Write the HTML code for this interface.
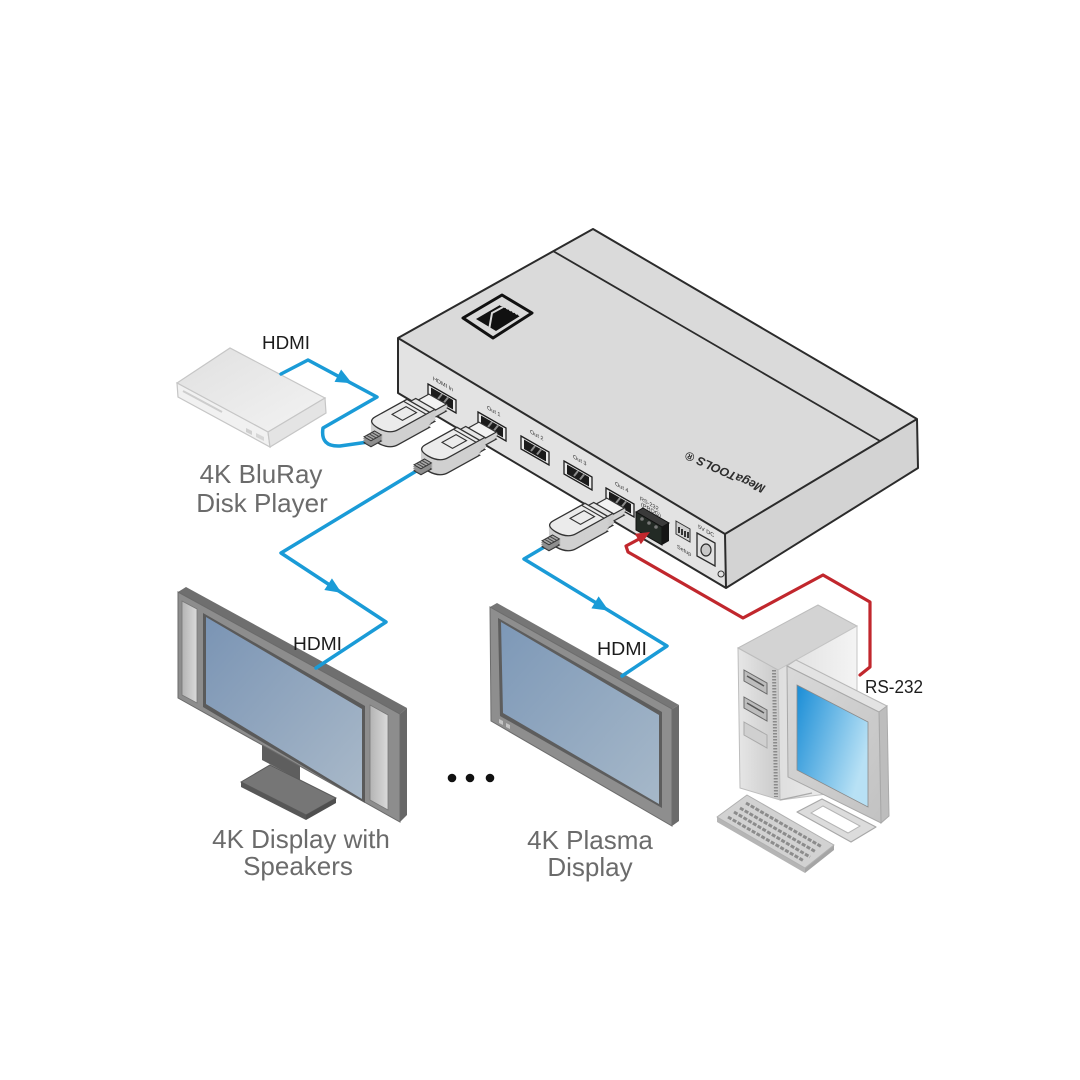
<!DOCTYPE html>
<html><head><meta charset="utf-8"><style>
html,body{margin:0;padding:0;background:#fff}
svg{display:block}
text{font-family:"Liberation Sans",Arial,sans-serif}
</style></head><body>
<svg width="1080" height="1080" viewBox="0 0 1080 1080" xmlns="http://www.w3.org/2000/svg" xmlns:xlink="http://www.w3.org/1999/xlink">
<defs>
 <linearGradient id="scr1" x1="0" y1="0" x2="1" y2="1"><stop offset="0" stop-color="#7a94b4"/><stop offset="1" stop-color="#a9b9c9"/></linearGradient>
 <linearGradient id="scr2" x1="0" y1="0" x2="1" y2="1"><stop offset="0" stop-color="#7d98b7"/><stop offset="1" stop-color="#a6b8c9"/></linearGradient>
 <linearGradient id="scr3" x1="0" y1="0" x2="1" y2="0.5"><stop offset="0" stop-color="#1a8dd6"/><stop offset="1" stop-color="#b8e1f5"/></linearGradient>
 <linearGradient id="spk" x1="0" y1="0" x2="1" y2="0"><stop offset="0" stop-color="#b4b4b4"/><stop offset="1" stop-color="#dadada"/></linearGradient>
 <linearGradient id="bluTop" x1="0" y1="0" x2="1" y2="1"><stop offset="0" stop-color="#e0e0e0"/><stop offset="1" stop-color="#f3f3f3"/></linearGradient>
 <linearGradient id="twrF" x1="0" y1="0" x2="1" y2="0"><stop offset="0" stop-color="#e6e6e6"/><stop offset="1" stop-color="#c9c9c9"/></linearGradient>
 <linearGradient id="twrR" x1="0" y1="0" x2="1" y2="0"><stop offset="0" stop-color="#dedede"/><stop offset="1" stop-color="#f4f4f4"/></linearGradient>
 <linearGradient id="monF" x1="0" y1="0" x2="1" y2="1"><stop offset="0" stop-color="#d9d9d9"/><stop offset="1" stop-color="#c2c2c2"/></linearGradient>

 <path id="pb" d="M10,-13 L46,-13 L46,13 L10,13 Q0,13 0,0 Q0,-13 10,-13 Z" transform="matrix(0.876,-0.483,0.87,0.5,0,0)" vector-effect="non-scaling-stroke"/>
 <path id="pc" d="M46,-11 L54,-11 L54,11 L46,11 Z" transform="matrix(0.876,-0.483,0.87,0.5,0,0)" vector-effect="non-scaling-stroke"/>
 <path id="pt" d="M54,-10 L68,-10 L68,10 L54,10 Z" transform="matrix(0.876,-0.483,0.87,0.5,0,0)" vector-effect="non-scaling-stroke"/>
 <path id="pf" d="M-12,-4 L0,-4 L0,4 L-12,4 Z" transform="matrix(0.876,-0.483,0.87,0.5,0,0)" vector-effect="non-scaling-stroke"/>
 <path id="pd" d="M22,-6 L38,-6 L38,6 L22,6 Z M42,-13 L42,13" transform="matrix(0.876,-0.483,0.87,0.5,0,0)" vector-effect="non-scaling-stroke"/>
 <path id="pfs" d="M-9,-4 L-9,4 M-6,-4 L-6,4 M-3,-4 L-3,4" transform="matrix(0.876,-0.483,0.87,0.5,0,0)" vector-effect="non-scaling-stroke"/>

 <g id="plug">
  <use href="#pt" y="11" fill="#bdbdbd" stroke="#333" stroke-width="1.2"/>
  <g fill="#d2d2d2" stroke="#d2d2d2" stroke-width="1.5"><use href="#pt" y="9"/><use href="#pt" y="7"/><use href="#pt" y="5"/></g>
  <use href="#pt" y="4" fill="#f2f2f2" stroke="#333" stroke-width="1.2"/>
  <use href="#pc" y="14" fill="#bdbdbd" stroke="#333" stroke-width="1.2"/>
  <g fill="#cbcbcb" stroke="#cbcbcb" stroke-width="1.5"><use href="#pc" y="12"/><use href="#pc" y="10"/><use href="#pc" y="8"/><use href="#pc" y="6"/><use href="#pc" y="4"/></g>
  <use href="#pc" y="2" fill="#e6e6e6" stroke="#333" stroke-width="1.2"/>
  <use href="#pb" y="15" fill="#c4c4c4" stroke="#333" stroke-width="1.3"/>
  <g fill="#d0d0d0" stroke="#d0d0d0" stroke-width="1.5"><use href="#pb" y="13"/><use href="#pb" y="11"/><use href="#pb" y="9"/><use href="#pb" y="7"/><use href="#pb" y="5"/><use href="#pb" y="3"/><use href="#pb" y="1"/></g>
  <use href="#pb" y="0" fill="#ebebeb" stroke="#333" stroke-width="1.3"/>
  <use href="#pd" y="0" fill="none" stroke="#333" stroke-width="1.1"/>
  <use href="#pf" y="11" fill="#7d7d7d" stroke="#333" stroke-width="1"/>
  <g fill="#8f8f8f" stroke="#8f8f8f" stroke-width="1.2"><use href="#pf" y="9"/><use href="#pf" y="7"/></g>
  <use href="#pf" y="5" fill="#a8a8a8" stroke="#333" stroke-width="1"/>
  <use href="#pfs" y="5" fill="none" stroke="#444" stroke-width="1"/>
 </g>

 <g id="port">
  <polygon points="0,0 28,16 28,29 0,13" fill="#ebebeb" stroke="#1e1e1e" stroke-width="1.3"/>
  <polygon points="3,3.5 25,16 25,25.5 3,13" fill="#1b1b1b"/>
  <path d="M10,15 L14,10 M16,18.5 L20,13.5" stroke="#8d8d8d" stroke-width="2"/>
 </g>
</defs>

<rect width="1080" height="1080" fill="#fff"/>

<!-- ===== Main switcher box ===== -->
<polygon points="398,338 593,229 917,419 725,534" fill="#dadada"/>
<polygon points="398,338 725,534 726,588 398,393" fill="#e3e3e3"/>
<polygon points="725,534 917,419 918,468 726,588" fill="#d3d3d3"/>
<line x1="553" y1="251" x2="880" y2="441" stroke="#2b2b2b" stroke-width="1.8"/>
<path d="M398,338 L593,229 L917,419 L918,468 L726,588 L398,393 Z M398,338 L725,534 L917,419 M725,534 L726,588" fill="none" stroke="#2b2b2b" stroke-width="2" stroke-linejoin="round"/>

<!-- logo -->
<polygon points="463,318 502,295 532,313 493,338" fill="#dadada" stroke="#111" stroke-width="3" stroke-linejoin="round"/>
<polygon points="476,319 500,305 520,316 496,331" fill="#111"/>
<path d="M489,330 L492,313 L503,307" fill="none" stroke="#dadada" stroke-width="2"/>
<path d="M500,305 L520,316" stroke="#dadada" stroke-width="1" stroke-dasharray="2 1.5"/>

<!-- MegaTOOLS text -->
<text transform="translate(766,486) rotate(204)" font-size="12" font-weight="bold" font-style="italic" fill="#2d2d2d" textLength="86" lengthAdjust="spacingAndGlyphs">MegaTOOLS ®</text>

<!-- ports -->
<use href="#port" x="428" y="384"/>
<use href="#port" x="478" y="412"/>
<use href="#port" x="521" y="436"/>
<use href="#port" x="564" y="461"/>
<use href="#port" x="606" y="488"/>
<g font-size="5.5" fill="#333">
 <text transform="translate(433,380) skewY(30)">HDMI In</text>
 <text transform="translate(487,409) skewY(30)">Out 1</text>
 <text transform="translate(530,433) skewY(30)">Out 2</text>
 <text transform="translate(573,458) skewY(30)">Out 3</text>
 <text transform="translate(615,485) skewY(30)">Out 4</text>
 <text transform="translate(640,500) skewY(30)">RS-232</text>
 <text transform="translate(641,506) skewY(30)">(PROG)</text>
 <text transform="translate(677,548) skewY(30)">Setup</text>
 <text transform="translate(698,528) skewY(30)">5V DC</text>
</g>
<!-- terminal block -->
<polygon points="636,512 643,508 669,523 662,527" fill="#3a3a3a" stroke="#111" stroke-width="1"/>
<polygon points="636,512 662,527 662,545 636,530" fill="#232a25" stroke="#111" stroke-width="1"/>
<polygon points="662,527 669,523 669,541 662,545" fill="#151515"/>
<circle cx="642" cy="519" r="1.8" fill="#777"/><circle cx="649" cy="523" r="1.8" fill="#777"/><circle cx="656" cy="527" r="1.8" fill="#777"/>
<!-- dip -->
<polygon points="676,521 690,529 690,542 676,534" fill="#d0d0d0" stroke="#333" stroke-width="1"/>
<path d="M679,527 L679,533 M682,529 L682,535 M685,531 L685,537 M688,532 L688,538" stroke="#333" stroke-width="2"/>
<!-- dc jack -->
<polygon points="697,533 715,543 715,566 697,556" fill="#e2e2e2" stroke="#2b2b2b" stroke-width="1.3"/>
<ellipse cx="706" cy="550" rx="5" ry="6" fill="#c8c8c8" stroke="#2b2b2b" stroke-width="1.2"/>
<circle cx="721" cy="574" r="3" fill="none" stroke="#333" stroke-width="1"/>

<!-- ===== Blu-ray player ===== -->
<polygon points="177,383 230,348 325,398 268,432" fill="url(#bluTop)" stroke="#c6c6c6" stroke-width="1.2"/>
<polygon points="177,383 268,432 270,447 178,397" fill="#f1f1f1" stroke="#c6c6c6" stroke-width="1.2"/>
<polygon points="268,432 325,398 326,413 270,447" fill="#e4e4e4" stroke="#c6c6c6" stroke-width="1.2"/>
<path d="M183,391 L222,412" stroke="#cdcdcd" stroke-width="2"/>
<polygon points="246,428 252,431 252,435 246,432" fill="#cfcfcf"/>
<polygon points="256,433 264,437 264,441 256,437" fill="#d6d6d6"/>

<!-- ===== TV 1 ===== -->
<polygon points="262,738 300,758 300,780 262,760" fill="#5e5e5e"/>
<polygon points="241,782 270,765 336,798 306,815" fill="#767676" stroke="#5a5a5a" stroke-width="1"/>
<polygon points="241,782 306,815 306,820 241,787" fill="#575757"/>
<polygon points="306,815 336,798 336,803 306,820" fill="#4f4f4f"/>
<polygon points="178,592 186,587 407,708 400,714" fill="#6f6f6f"/>
<polygon points="400,714 407,708 407,815 400,822" fill="#676767"/>
<polygon points="178,592 400,714 400,822 178,698" fill="#8d8d8d" stroke="#6a6a6a" stroke-width="1"/>
<polygon points="182,601 197,609 197,703 182,695" fill="url(#spk)" stroke="#777" stroke-width="0.8"/>
<polygon points="370,705 388,715 388,810 370,800" fill="url(#spk)" stroke="#777" stroke-width="0.8"/>
<polygon points="203,613 365,706 365,803 203,707" fill="#5a5a5a"/>
<polygon points="206,617 362,709 362,799 206,704" fill="url(#scr1)"/>

<!-- ===== TV 2 (plasma) ===== -->
<polygon points="490,607 497,603 679,705 672,709" fill="#767676"/>
<polygon points="672,709 679,705 679,821 672,826" fill="#6b6b6b"/>
<polygon points="490,607 672,709 672,826 491,721" fill="#8e8e8e" stroke="#6c6c6c" stroke-width="1"/>
<polygon points="498,618 662,712 662,808 500,716" fill="#5d5d5d"/>
<polygon points="501,622 659,715 659,804 503,713" fill="url(#scr2)"/>
<polygon points="499,719 503,721 503,725 499,723" fill="#c4c4c4"/>
<polygon points="506,723 510,725 510,729 506,727" fill="#c4c4c4"/>

<!-- dots -->
<circle cx="452" cy="778" r="4.3" fill="#111"/>
<circle cx="470" cy="778" r="4.3" fill="#111"/>
<circle cx="490" cy="778" r="4.3" fill="#111"/>

<!-- ===== Computer ===== -->
<polygon points="738,648 818,605 857,626 778,670" fill="#d3d3d3" stroke="#bdbdbd" stroke-width="1"/>
<polygon points="778,670 857,626 857,790 780,800" fill="url(#twrR)" stroke="#c4c4c4" stroke-width="1"/>
<polygon points="738,648 778,670 780,800 740,788" fill="url(#twrF)" stroke="#bdbdbd" stroke-width="1"/>
<line x1="774" y1="670" x2="776" y2="797" stroke="#8a8a8a" stroke-width="4" stroke-dasharray="1.5 1.5"/>
<polygon points="744,670 767,683 767,694 744,681" fill="#bdbdbd" stroke="#6a6a6a" stroke-width="1"/>
<line x1="747" y1="676" x2="764" y2="686" stroke="#555" stroke-width="1.5"/>
<polygon points="744,697 767,710 767,721 744,708" fill="#bdbdbd" stroke="#6a6a6a" stroke-width="1"/>
<line x1="747" y1="703" x2="764" y2="713" stroke="#555" stroke-width="1.5"/>
<polygon points="744,722 767,735 767,748 744,735" fill="#d0d0d0" stroke="#aaa" stroke-width="1"/>
<!-- monitor base -->
<polygon points="797,812 822,799 876,827 851,842" fill="#dcdcdc" stroke="#a8a8a8" stroke-width="1.2" stroke-linejoin="round"/>
<polygon points="811,813 823,806 860,826 848,833" fill="#fff" stroke="#b5b5b5" stroke-width="1"/>
<line x1="780" y1="800" x2="812" y2="793" stroke="#aaa" stroke-width="1.2"/>
<!-- monitor -->
<polygon points="787,666 796,660 887,706 879,712" fill="#e3e3e3" stroke="#b8b8b8" stroke-width="1"/>
<polygon points="879,712 887,706 889,816 881,823" fill="#bdbdbd" stroke="#aaa" stroke-width="1"/>
<polygon points="787,666 879,712 881,823 788,777" fill="url(#monF)" stroke="#a8a8a8" stroke-width="1"/>
<polygon points="797,685 868,722 868,807 797,770" fill="url(#scr3)" stroke="#8a8a8a" stroke-width="0.8"/>
<!-- keyboard -->
<polygon points="717,817 805,868 805,873 717,822" fill="#b5b5b5"/>
<polygon points="805,868 834,845 834,850 805,873" fill="#a5a5a5"/>
<polygon points="717,817 747,795 834,845 805,868" fill="#d2d2d2" stroke="#b0b0b0" stroke-width="1" stroke-linejoin="round"/>
<g stroke="#8c8c8c" stroke-width="3" stroke-dasharray="4 1.5">
 <line x1="746" y1="803" x2="822" y2="847"/>
 <line x1="740" y1="808" x2="816" y2="852"/>
 <line x1="734" y1="812" x2="810" y2="857"/>
 <line x1="728" y1="817" x2="804" y2="861"/>
</g>

<!-- ===== Cables ===== -->
<g fill="none" stroke="#1a9bd7" stroke-width="3.5" stroke-linejoin="round" stroke-linecap="round">
 <path d="M281,374 L308,360 L377,397 L323,428 Q320,447 340,446 L368,442"/>
 <path d="M418,470 L281,553 L386,622 L316,668"/>
 <path d="M546,546 L524,559 L667,646 L622,676"/>
</g>
<g fill="#1a9bd7">
 <path d="M9,0 L-7,-7 L-7,7 Z" transform="translate(344,379) rotate(28)"/>
 <path d="M9,0 L-7,-7 L-7,7 Z" transform="translate(334,588) rotate(33)"/>
 <path d="M9,0 L-7,-7 L-7,7 Z" transform="translate(601,606) rotate(31)"/>
</g>
<path d="M641,538 L626,546 L628,552 L743,618 L823,575 L870,602 L870,667 L860,675" fill="none" stroke="#c1272d" stroke-width="3.2" stroke-linejoin="round" stroke-linecap="round"/>
<path d="M0,0 L-14,-6 L-14,6 Z" transform="translate(650,532) rotate(-30)" fill="#c1272d"/>

<!-- ===== Plugs ===== -->
<use href="#plug" x="378" y="428"/>
<use href="#plug" x="428" y="456"/>
<use href="#plug" x="556" y="532"/>

<!-- ===== Labels ===== -->
<g fill="#1c1c1c" font-size="18">
 <text x="262" y="349" textLength="48" lengthAdjust="spacingAndGlyphs">HDMI</text>
 <text x="293" y="650" textLength="49" lengthAdjust="spacingAndGlyphs">HDMI</text>
 <text x="597" y="655" textLength="50" lengthAdjust="spacingAndGlyphs">HDMI</text>
 <text x="865" y="693" textLength="58" lengthAdjust="spacingAndGlyphs">RS-232</text>
</g>
<g fill="#6b6b6b" font-size="26" text-anchor="middle">
 <text x="261" y="483">4K BluRay</text>
 <text x="262" y="512">Disk Player</text>
 <text x="301" y="848">4K Display with</text>
 <text x="298" y="875">Speakers</text>
 <text x="590" y="849">4K Plasma</text>
 <text x="590" y="876">Display</text>
</g>
</svg>
</body></html>
